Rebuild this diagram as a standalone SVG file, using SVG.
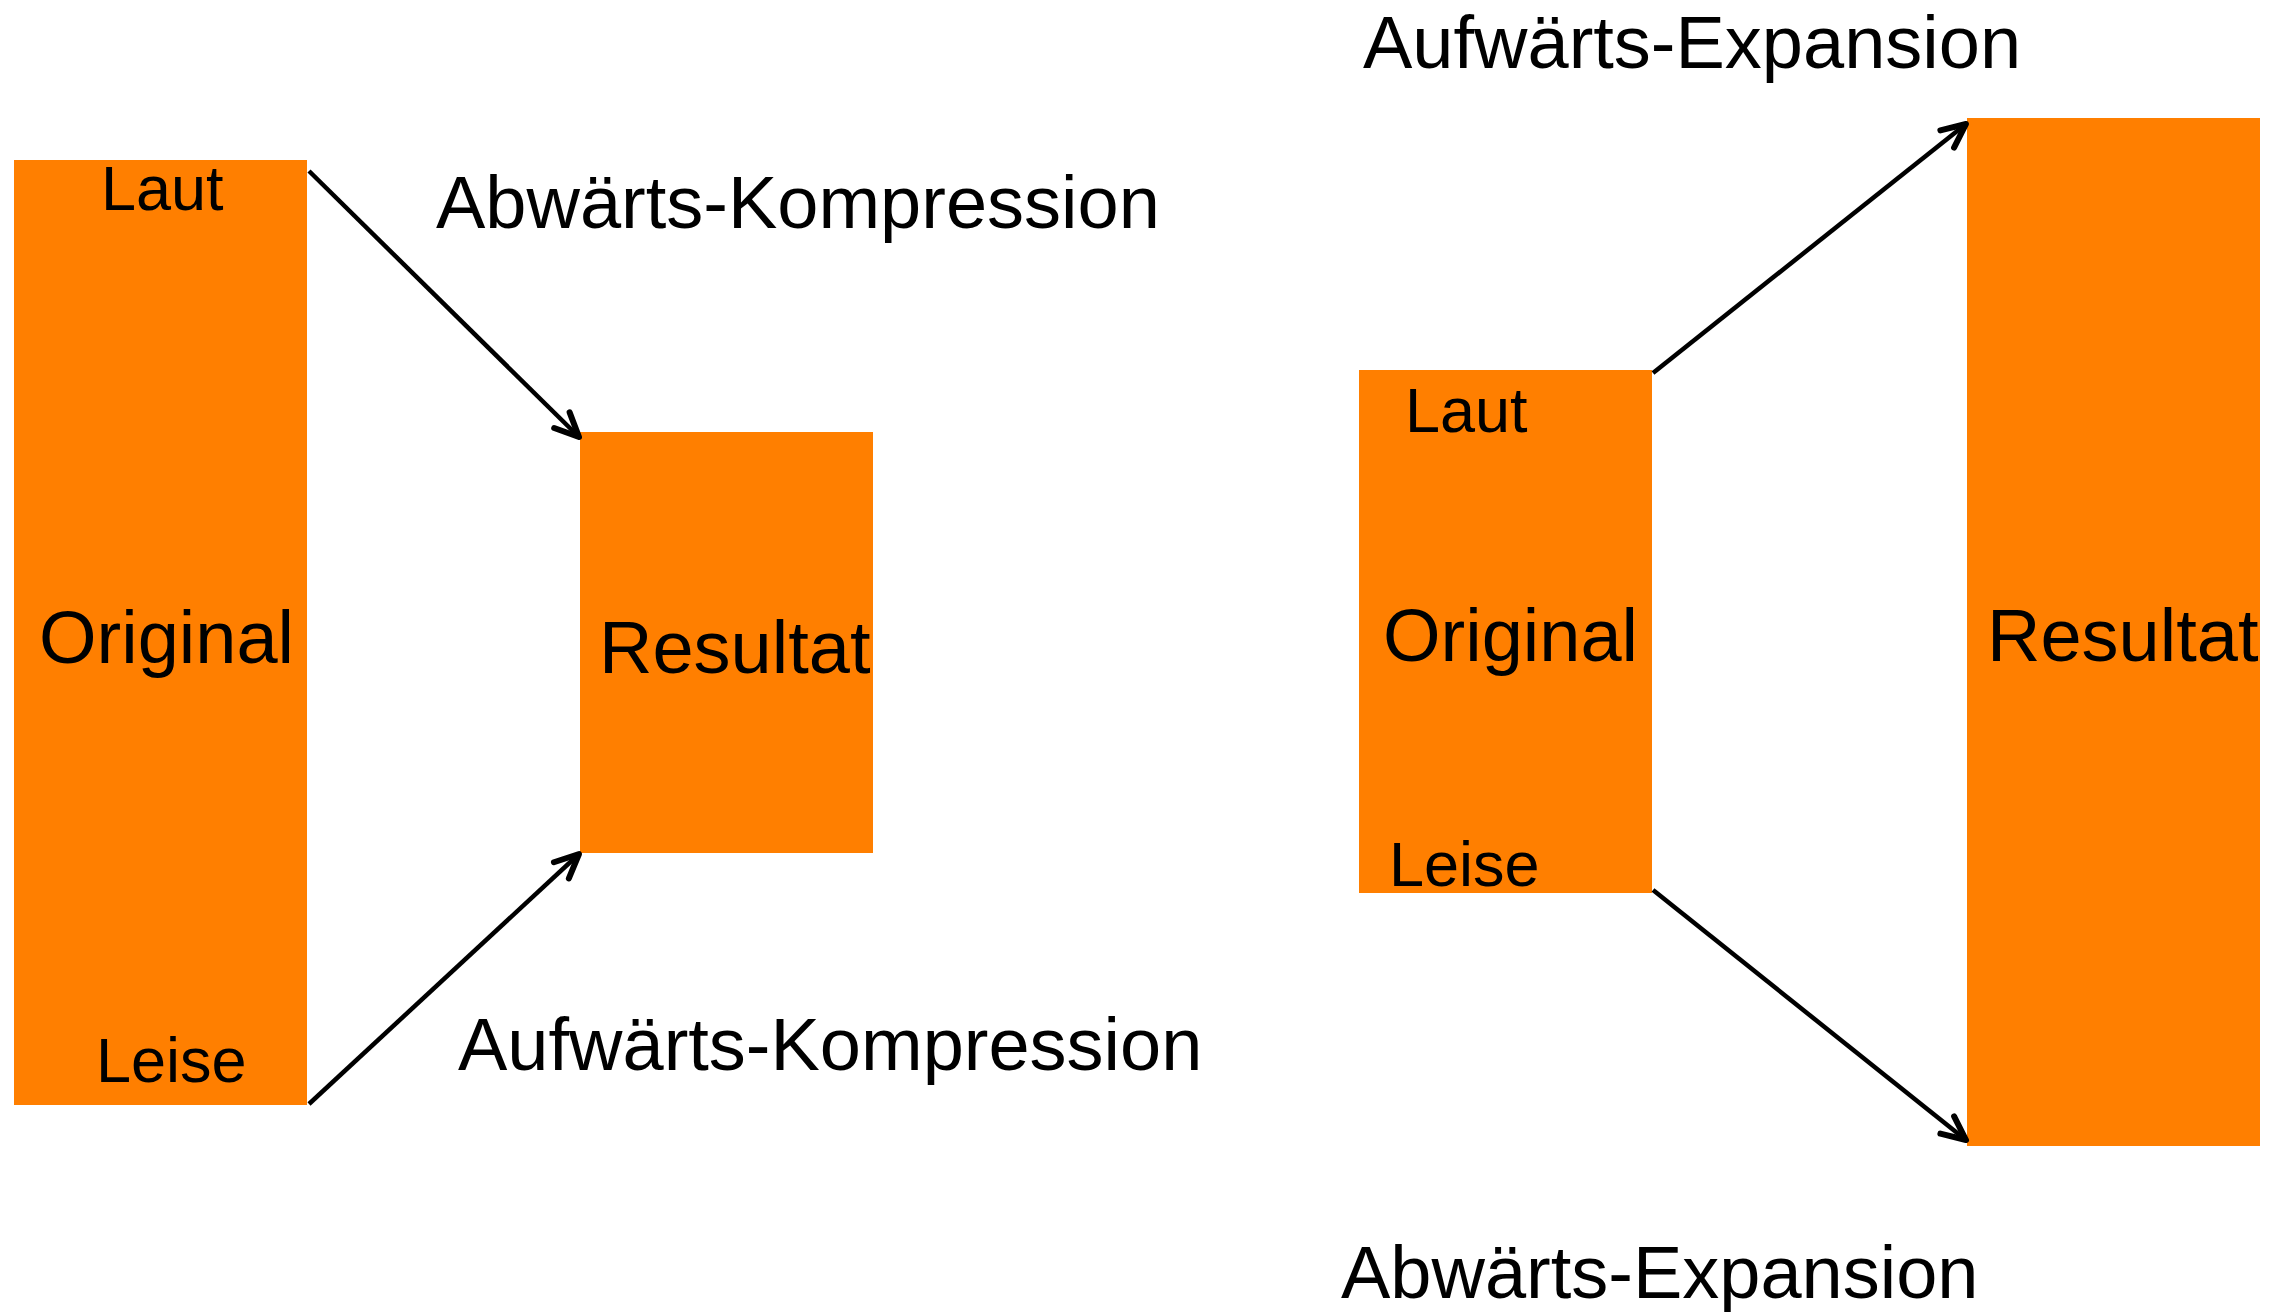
<svg xmlns="http://www.w3.org/2000/svg" width="2274" height="1312" viewBox="0 0 2274 1312">
<style>
.box{fill:#ff7f00;}
.t{font-family:"Liberation Sans",Arial,sans-serif;fill:#000;}
.s{font-size:63px;}
.b{font-size:74px;}
.c{stroke:#000;stroke-width:4.5;fill:none;}
</style>
<defs>
<marker id="ah" markerUnits="userSpaceOnUse" markerWidth="50" markerHeight="50" viewBox="-35 -25 50 50" refX="0" refY="0" orient="auto">
<path d="M -24 -11 L 0 0 L -24 11" fill="none" stroke="#000" stroke-width="6" stroke-linecap="round" stroke-linejoin="round"/>
</marker>
</defs>
<rect width="2274" height="1312" fill="#fff"/>
<g id="orig-left">
<rect class="box" x="14" y="160" width="293" height="945"/>
<text class="t s" x="101" y="210">Laut</text>
<text class="t b" x="39" y="663">Original</text>
<text class="t s" x="96" y="1082">Leise</text>
</g>
<g id="result-left">
<rect class="box" x="580" y="432" width="293" height="421"/>
<text class="t b" x="599" y="673">Resultat</text>
</g>
<g id="orig-right">
<rect class="box" x="1359" y="370" width="293" height="523"/>
<text class="t s" x="1405" y="432">Laut</text>
<text class="t b" x="1383" y="661">Original</text>
<text class="t s" x="1389" y="886">Leise</text>
</g>
<g id="result-right">
<rect class="box" x="1967" y="118" width="293" height="1028"/>
<text class="t b" x="1987" y="661">Resultat</text>
</g>
<g id="labels">
<text class="t b" x="436" y="228">Abwärts-Kompression</text>
<text class="t b" x="458" y="1070">Aufwärts-Kompression</text>
<text class="t b" x="1363" y="68">Aufwärts-Expansion</text>
<text class="t b" x="1341" y="1298">Abwärts-Expansion</text>
</g>
<g id="connectors">
<line class="c" x1="309" y1="171" x2="579" y2="437" marker-end="url(#ah)"/>
<line class="c" x1="309" y1="1104" x2="579" y2="854" marker-end="url(#ah)"/>
<line class="c" x1="1653" y1="373" x2="1966" y2="124" marker-end="url(#ah)"/>
<line class="c" x1="1653" y1="890" x2="1966" y2="1140" marker-end="url(#ah)"/>
</g>
</svg>
